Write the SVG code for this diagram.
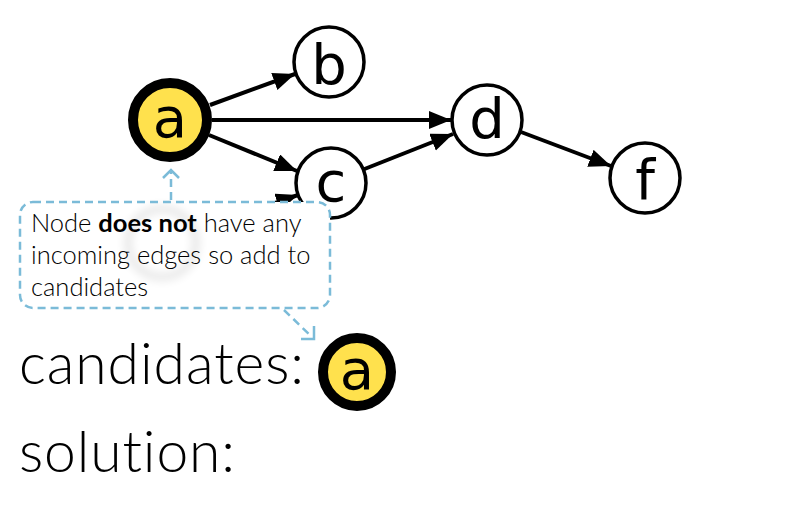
<svg xmlns="http://www.w3.org/2000/svg" width="800" height="517" viewBox="0 0 800 517">
<defs>
<style>
.node{fill:#fff;stroke:#000;stroke-width:3.5}
.cur{fill:#ffe14d;stroke:#000;stroke-width:10}
.lbl{font-family:"DejaVu Sans",sans-serif;font-size:56px;fill:#000;text-anchor:middle}
.edge{stroke:#000;stroke-width:4;fill:none;marker-end:url(#ah)}
.call{fill:none;stroke:#7bbbd8;stroke-width:2.5;stroke-dasharray:8 5}
.txt{font-family:Lato,"Liberation Sans",sans-serif;font-weight:300;fill:#000;font-variant-ligatures:none}
</style>
<marker id="ah" markerUnits="userSpaceOnUse" markerWidth="24" markerHeight="20" refX="22" refY="9" orient="auto">
<path d="M0,0 L22,9 L0,18 Z" fill="#000"/>
</marker>
<filter id="blur" x="-50%" y="-50%" width="200%" height="200%"><feGaussianBlur stdDeviation="5"/></filter>
</defs>
<rect width="800" height="517" fill="#fff"/>
<g id="connectors">
<line class="edge" x1="210" y1="105" x2="295" y2="74"/>
<line class="edge" x1="212" y1="120" x2="451" y2="120"/>
<line class="edge" x1="209" y1="135" x2="297" y2="171"/>
<line class="edge" x1="362" y1="170" x2="453" y2="134"/>
<line class="edge" x1="521" y1="132" x2="611" y2="166"/>
<line class="edge" x1="195" y1="231" x2="298" y2="195"/>
</g>
<g id="node-a"><circle class="cur" cx="170" cy="120" r="37"/><text class="lbl" x="170" y="137">a</text></g>
<g id="node-b"><circle class="node" cx="329" cy="62" r="35"/><text class="lbl" x="329" y="84">b</text></g>
<g id="node-c"><circle class="node" cx="331" cy="183" r="35"/><text class="lbl" x="331" y="201">c</text></g>
<g id="node-d"><circle class="node" cx="487" cy="120" r="35"/><text class="lbl" x="487" y="138">d</text></g>
<g id="node-f"><circle class="node" cx="645" cy="178" r="35"/><text class="lbl" x="645" y="199">f</text></g>
<g id="callout">
<rect x="20" y="202" width="310" height="106" rx="13" fill="#fff"/>
<circle cx="162" cy="243" r="34" fill="none" stroke="#000" stroke-width="6" opacity="0.12" filter="url(#blur)"/>
<rect class="call" x="20" y="202" width="310" height="106" rx="13"/>
<line class="call" x1="171" y1="200" x2="171" y2="172"/>
<polyline points="163,178 171,170 179,178" fill="none" stroke="#7bbbd8" stroke-width="2.5"/>
<line class="call" x1="284" y1="310" x2="312" y2="337"/>
<polyline points="314,326 314,339 301,339" fill="none" stroke="#7bbbd8" stroke-width="2.5"/>
<text class="txt" font-size="25.5"><tspan x="31" y="232">Node <tspan font-weight="700">does not</tspan> have any</tspan><tspan x="31" y="264">incoming edges so add to</tspan><tspan x="31" y="296">candidates</tspan></text>
</g>
<text class="txt" x="19" y="384" font-size="57" textLength="285" lengthAdjust="spacing">candidates:</text>
<g id="cand-a"><circle class="cur" cx="357" cy="372" r="34"/><text class="lbl" x="357" y="389">a</text></g>
<text class="txt" x="19" y="472" font-size="57" textLength="216" lengthAdjust="spacing">solution:</text>
</svg>
